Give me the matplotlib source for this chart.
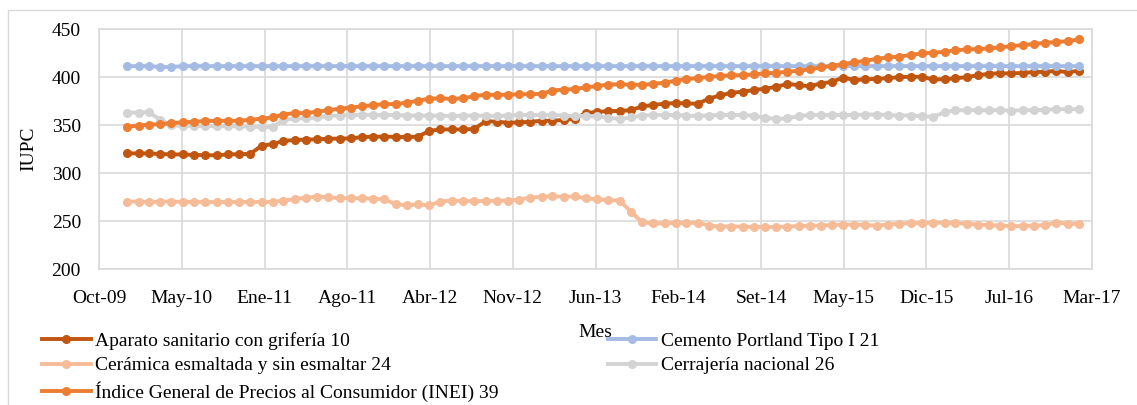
import numpy as np
import pandas as pd
import matplotlib
matplotlib.use("Agg")
import matplotlib.pyplot as plt
from matplotlib.patches import Rectangle

# monthly index values, Jan-2010 .. Feb-2017
months = pd.date_range("2010-01-01", periods=86, freq="MS")

aparato = [
    320.6, 320.6, 320.5, 320.0, 319.5, 319.5, 319.0, 318.8, 318.5, 319.5,
    319.8, 320.0, 328.6, 330.3, 333.5, 334.5, 335.0, 335.2, 335.8, 336.0,
    336.2, 337.5, 338.0, 338.0, 337.8, 337.5, 338.0, 344.0, 345.5, 345.5,
    345.5, 346.0, 354.0, 353.6, 352.5, 352.8, 353.5, 354.5, 354.6, 355.3,
    356.5, 362.5, 363.8, 364.5, 364.8, 365.5, 369.5, 371.0, 372.3, 373.0,
    372.6, 372.2, 377.5, 381.0, 383.5, 384.8, 386.5, 388.0, 389.8, 393.0,
    391.5, 390.5, 393.3, 395.0, 399.5, 396.9, 397.6, 398.2, 398.8, 400.0,
    400.3, 400.3, 397.5, 397.8, 398.6, 400.0, 401.8, 403.5, 403.8, 403.8,
    404.3, 405.2, 405.5, 406.5, 405.0, 406.6,
]

cemento = [
    411.4, 411.4, 411.4, 410.5, 410.5, 411.4, 411.4, 411.4, 411.4, 411.4,
    411.4, 411.4, 411.4, 411.4, 411.4, 411.4, 411.4, 411.4, 411.4, 411.4,
    411.4, 411.4, 411.4, 411.4, 411.4, 411.4, 411.4, 411.4, 411.4, 411.4,
    411.4, 411.4, 411.4, 411.4, 411.4, 411.4, 411.4, 411.4, 411.4, 411.4,
    411.4, 411.4, 411.4, 411.4, 411.4, 411.4, 411.4, 411.4, 411.4, 411.4,
    411.4, 411.4, 411.4, 411.4, 411.4, 411.4, 411.4, 411.4, 411.4, 411.4,
    411.4, 411.4, 411.4, 411.4, 411.4, 411.4, 411.4, 411.4, 411.4, 411.4,
    411.4, 411.4, 411.4, 411.4, 411.4, 411.4, 411.4, 411.4, 411.4, 411.4,
    411.4, 411.4, 411.4, 411.4, 411.4, 411.4,
]

ceramica = [
    270.5, 270.5, 270.0, 270.5, 270.5, 270.0, 270.2, 270.0, 270.0, 270.0,
    270.0, 270.2, 270.0, 270.2, 271.5, 273.0, 274.5, 275.6, 275.0, 274.0,
    274.0, 274.0, 273.5, 273.0, 267.5, 266.5, 267.5, 266.5, 270.5, 271.5,
    271.0, 271.0, 271.0, 271.2, 271.5, 272.5, 274.5, 275.5, 276.0, 275.5,
    275.8, 274.0, 272.8, 272.0, 271.5, 260.0, 248.8, 247.8, 247.8, 248.2,
    248.2, 248.5, 245.5, 244.5, 244.5, 244.5, 244.0, 244.0, 244.0, 244.5,
    245.0, 245.5, 245.5, 246.0, 246.5, 246.5, 246.0, 245.5, 246.5, 247.5,
    248.0, 248.0, 248.5, 248.5, 248.0, 247.5, 246.5, 246.0, 245.5, 245.0,
    245.0, 245.5, 246.0, 248.5, 247.5, 247.0,
]

cerrajeria = [
    363.0, 363.0, 363.5, 355.5, 350.0, 349.0, 349.0, 349.0, 348.8, 349.0,
    348.8, 348.5, 348.0, 348.0, 355.0, 357.0, 357.0, 358.0, 359.5, 360.0,
    360.5, 360.5, 360.5, 360.5, 360.5, 360.0, 360.0, 359.8, 359.8, 359.5,
    359.8, 360.0, 359.8, 359.5, 360.0, 360.5, 360.5, 360.5, 360.5, 360.0,
    359.5, 359.5, 359.0, 357.8, 356.3, 358.0, 360.0, 360.5, 360.5, 360.5,
    360.0, 359.5, 360.0, 360.5, 360.5, 360.5, 359.8, 357.5, 356.5, 357.0,
    359.5, 360.5, 360.5, 360.5, 360.5, 360.5, 361.0, 361.0, 360.5, 360.0,
    360.0, 359.5, 358.5, 363.5, 365.5, 365.5, 365.5, 365.5, 365.5, 365.0,
    365.5, 365.5, 366.0, 366.5, 366.5, 366.5,
]

igpc = [
    348.4, 349.5, 350.5, 351.0, 352.0, 353.0, 353.5, 354.3, 354.4, 354.5,
    354.6, 355.5, 356.7, 358.0, 361.0, 362.5, 362.5, 364.0, 365.5, 367.0,
    368.3, 369.5, 370.9, 371.8, 372.0, 373.3, 375.5, 377.5, 377.8, 377.3,
    378.0, 380.0, 381.8, 381.3, 381.8, 382.0, 382.2, 382.5, 386.0, 387.0,
    387.5, 389.3, 390.6, 392.2, 392.6, 392.0, 392.0, 392.7, 394.3, 396.2,
    398.0, 398.8, 400.3, 401.0, 401.8, 402.0, 402.8, 403.8, 404.5, 405.5,
    406.6, 408.0, 410.0, 411.5, 413.5, 415.2, 417.0, 419.0, 420.4, 421.3,
    423.0, 424.6, 425.3, 426.3, 427.8, 428.7, 429.1, 429.8, 430.8, 432.2,
    433.3, 434.3, 435.7, 436.4, 437.4, 439.2,
]

tick_labels = ["Oct-09", "May-10", "Ene-11", "Ago-11", "Abr-12", "Nov-12",
               "Jun-13", "Feb-14", "Set-14", "May-15", "Dic-15", "Jul-16",
               "Mar-17"]

series = [
    ("Aparato sanitario con grifería 10", aparato, "#c0560f"),
    ("Cemento Portland Tipo I 21", cemento, "#a4bce4"),
    ("Cerámica esmaltada y sin esmaltar 24", ceramica, "#f6bc98"),
    ("Cerrajería nacional 26", cerrajeria, "#d3d3d3"),
    ("Índice General de Precios al Consumidor (INEI) 39", igpc, "#ed7d31"),
]


def main():
    fs = 14
    plt.rcParams["font.family"] = ["Liberation Serif", "DejaVu Serif"]
    plt.rcParams["font.size"] = fs
    grid = "#d9d9d9"

    fig = plt.figure(figsize=(11.37, 4.05), dpi=100)
    ax = fig.add_axes([99 / 1137, 1 - 269.3 / 405, 993 / 1137, 240.3 / 405])

    lines = {}
    for name, values, color in series:
        (ln,) = ax.plot(months, values, color=color, lw=2.8, marker="o",
                        ms=5.5, label=name)
        lines[name] = ln

    # date axis split into 12 equal steps of 225 days
    start = pd.Timestamp("2009-10-16")
    ticks = [start + pd.Timedelta(days=225 * k) for k in range(len(tick_labels))]
    ax.set_xlim(ticks[0], ticks[-1])
    ax.set_xticks(ticks)
    ax.set_xticklabels(tick_labels)
    ax.set_ylim(200, 450)
    ax.set_yticks(np.arange(200, 451, 50))

    ax.grid(True, color=grid, lw=1.2)
    ax.set_axisbelow(True)
    for sp in ax.spines.values():
        sp.set_color(grid)
        sp.set_linewidth(1.2)
    ax.tick_params(axis="x", length=0, pad=15, labelsize=fs)
    ax.tick_params(axis="y", length=0, pad=13, labelsize=fs)

    ax.set_ylabel("IUPC", fontsize=fs, labelpad=10)
    ax.set_xlabel("Mes", fontsize=fs, labelpad=12)

    order = [series[i][0] for i in (0, 2, 4, 1, 3)]
    fig.legend([lines[n] for n in order], order, ncol=2, loc="upper left",
               bbox_to_anchor=(42 / 1137, 1 - 332 / 405), frameon=False,
               fontsize=fs, handlelength=2.5, handletextpad=0.25,
               labelspacing=0.36, columnspacing=5.6, borderpad=0,
               borderaxespad=0)

    # chart area outline
    fig.patches.append(Rectangle((8 / 1137, -0.1), 1.2, 1.1 - 10 / 405,
                                 transform=fig.transFigure, fill=False,
                                 edgecolor=grid, lw=1))

    fig.savefig("out.png", dpi=100)


if __name__ == "__main__":
    main()
